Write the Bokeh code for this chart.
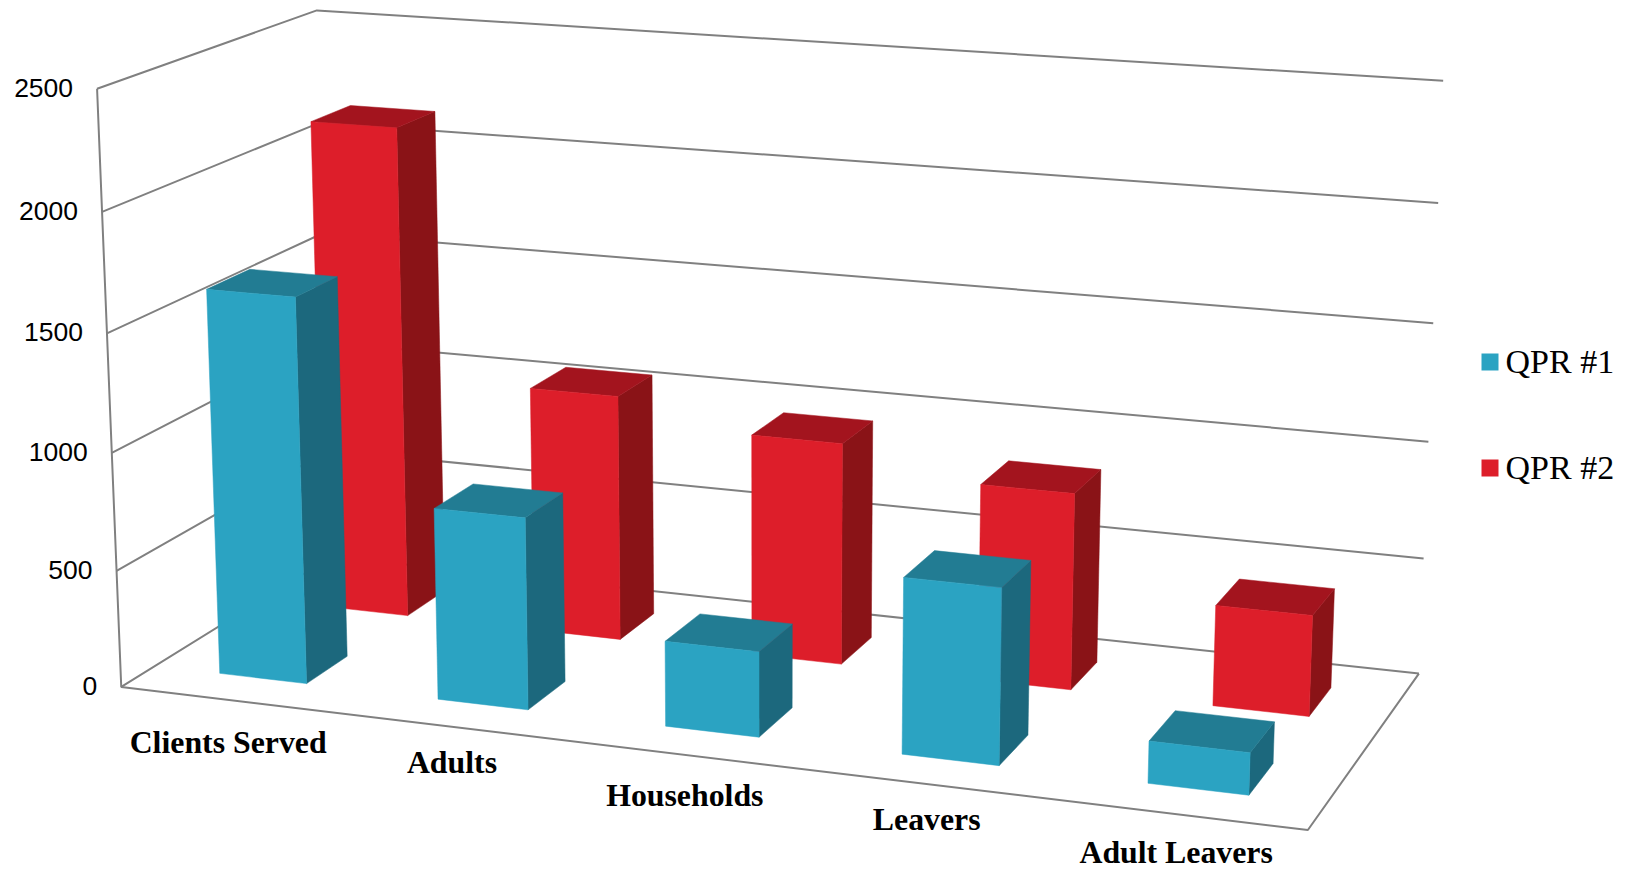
import numpy as np
from bokeh.plotting import figure
from bokeh.models import Range1d
from bokeh.core.properties import value
from bokeh.embed import file_html
from bokeh.resources import INLINE

categories = ["Clients Served", "Adults", "Households", "Leavers", "Adult Leavers"]
series_names = ["QPR #1", "QPR #2"]
qpr1 = [1640, 811, 357, 727, 172]
qpr2 = [2151, 1070, 957, 839, 427]
ticks = [0, 500, 1000, 1500, 2000, 2500]

WIDTH, HEIGHT = 1630, 869
VMAX = 2500

# Camera calibration: chart-box corners (category, value, depth) to page pixels, with a weight
CALIB = [((0, 0, 0), (120.3, 686.7), 4), ((0, 500, 0), (117.3, 569.3), 1), ((0, 1000, 0), (112.7, 451.7), 1),
         ((0, 1500, 0), (108.7, 332), 1), ((0, 2000, 0), (102.7, 210.7), 1), ((0, 2500, 0), (97, 88.3), 2),
         ((0, 2500, 1), (316, 10), 4), ((0, 0, 1), (336, 553), 1), ((5, 0, 0), (1307.3, 829), 2),
         ((5, 0, 1), (1418.3, 673.3), 2), ((5, 500, 1), (1422.7, 558.7), 1), ((5, 1000, 1), (1427.7, 442.3), 1),
         ((5, 1500, 1), (1432.7, 323), 1), ((5, 2000, 1), (1437.6, 202.7), 1), ((5, 2500, 1), (1443, 80), 2)]

rows = []
for (cx, cv, cz), (u, w), wt in CALIB:
    cy = cv / VMAX
    rows.append([wt * c for c in [cx, cy, cz, 1, 0, 0, 0, 0, -u*cx, -u*cy, -u*cz, -u]])
    rows.append([wt * c for c in [0, 0, 0, 0, cx, cy, cz, 1, -w*cx, -w*cy, -w*cz, -w]])
CAM = np.linalg.svd(np.array(rows, float))[2][-1].reshape(3, 4)


def proj(x, v, z):
    q = CAM @ np.array([x, v / VMAX, z, 1.0])
    return float(q[0] / q[2]), float(q[1] / q[2])


def path(points):
    xy = [proj(*pt) for pt in points]
    return [a for a, _ in xy], [b for _, b in xy]


# Bar geometry in box units
BAR_X = 0.30
BAR_W = 0.40
ROW_Z = [0.15, 0.65]
BAR_D = 0.195
CAT_DX = [0.0, -0.005, -0.005, -0.004, -0.002]
CAT_DZ = [0.0, 0.0, 0.0, 0.0, 0.0]

COLORS = [("#2BA3C2", "#1C687D", "#227C93"), ("#DD1E2A", "#8A1317", "#A3141E")]

p = figure(width=WIDTH, height=HEIGHT, output_backend="svg", toolbar_location=None,
           x_range=Range1d(0, WIDTH), y_range=Range1d(HEIGHT, 0),
           min_border=0, outline_line_color=None, background_fill_color="white")
p.axis.visible = False
p.grid.visible = False

GRID = dict(line_color="#808080", line_width=2)

# Walls and floor
for t in ticks:
    xs, ys = path([(0, t, 0), (0, t, 1), (5, t, 1)])
    p.line(xs, ys, **GRID)
xs, ys = path([(0, VMAX, 0), (0, 0, 0), (5, 0, 0), (5, 0, 1)])
p.line(xs, ys, **GRID)

# Bars, back row first
for row, vals in reversed(list(enumerate([qpr1, qpr2]))):
    front_c, side_c, top_c = COLORS[row]
    for i, v in enumerate(vals):
        x0 = i + BAR_X + CAT_DX[i]
        x1 = x0 + BAR_W
        z0 = ROW_Z[row] + CAT_DZ[i]
        z1 = z0 + BAR_D
        for pts, col in (
            ([(x1, 0, z0), (x1, 0, z1), (x1, v, z1), (x1, v, z0)], side_c),
            ([(x0, v, z0), (x1, v, z0), (x1, v, z1), (x0, v, z1)], top_c),
            ([(x0, 0, z0), (x1, 0, z0), (x1, v, z0), (x0, v, z0)], front_c),
        ):
            xs, ys = path(pts)
            p.patch(xs, ys, fill_color=col, line_color=col, line_width=0.5)

# Value labels
tx, ty = zip(*[proj(0, t, 0) for t in ticks])
p.text(list(tx), list(ty), text=[str(t) for t in ticks], text_font=value("Liberation Sans"),
       text_font_size="26.5px", text_color="#000000", text_align="right", text_baseline="alphabetic",
       x_offset=-24, y_offset=-1)

# Category labels
LABEL_DX = [-2, -2, -1.5, -1, -2.5]
LABEL_DY = [42.7, 35, 40, 35.7, 38]
for i, name in enumerate(categories):
    cx, cy = proj(i + 0.5, 0, 0)
    p.text([cx + LABEL_DX[i]], [cy + LABEL_DY[i]], text=[name], text_font=value("Liberation Serif"),
           text_font_style="bold", text_font_size="31.8px", text_color="#000000",
           text_align="center", text_baseline="alphabetic")

# Legend
LEG_Y = [361.5, 467.5]
for k, name in enumerate(series_names):
    p.quad(left=[1481], right=[1498], top=[LEG_Y[k] - 8.5], bottom=[LEG_Y[k] + 8.5],
           fill_color=COLORS[k][0], line_color=None)
    p.text([1505], [LEG_Y[k] - 0.4], text=[name], text_font=value("Liberation Serif"),
           text_font_size="34px", text_color="#000000", text_align="left", text_baseline="alphabetic")

open("out.html", "w").write(file_html(p, INLINE))
